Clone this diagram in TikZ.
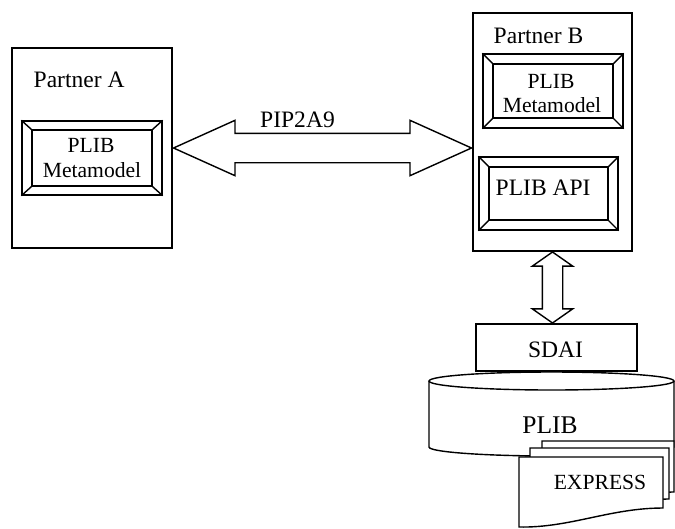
\documentclass[tikz,border=0pt]{standalone}
\usepackage{fontspec}
\setmainfont{Liberation Serif}
\usetikzlibrary{shapes.arrows,calc}

\tikzset{
  box/.style={rectangle,draw,fill=white,inner sep=0pt},
  lbl/.style={inner sep=0pt,font=\fontsize{13.4}{16}\selectfont},
  small/.style={inner sep=0pt,font=\fontsize{12.3}{15}\selectfont},
  fatarrow/.style={double arrow,draw,fill=white,inner xsep=0pt,
    double arrow head indent=0pt}
}

\begin{document}
\begin{tikzpicture}[x=0.02cm,y=-0.02cm,line width=0.8pt]
\useasboundingbox (0,0) rectangle (675,528);

% partner A with its metamodel
\node[box, minimum width=3.2cm, minimum height=4cm] (partA) at (92,148) {};
\node[lbl, anchor=base west] (nameA) at (33,87) {Partner A};
\node[box, minimum width=2.8cm, minimum height=1.48cm] (metaA) at (92,158) {};
\node[box, minimum width=2.4cm, minimum height=1.12cm] (metaAin) at (92,158) {};
\foreach \c in {north west,north east,south west,south east}
  \draw (metaA.\c) -- (metaAin.\c);
\node[small, anchor=base] (plibA) at (91,152) {PLIB};
\node[small, anchor=base] (mmA) at (92,177) {Metamodel};

% partner B with metamodel and API
\node[box, minimum width=3.18cm, minimum height=4.76cm] (partB) at (552.5,132) {};
\node[lbl, anchor=base west] (nameB) at (493,43) {Partner B};
\node[box, minimum width=2.8cm, minimum height=1.48cm] (metaB) at (553,91) {};
\node[box, minimum width=2.4cm, minimum height=1.08cm] (metaBin) at (553,91) {};
\foreach \c in {north west,north east,south west,south east}
  \draw (metaB.\c) -- (metaBin.\c);
\node[small, anchor=base] (plibB) at (551,88) {PLIB};
\node[small, anchor=base] (mmB) at (552,112) {Metamodel};

\node[box, minimum width=2.78cm, minimum height=1.46cm] (api) at (548.5,193.5) {};
\node[box, minimum width=2.38cm, minimum height=1.06cm] (apiin) at (548.5,193.5) {};
\foreach \c in {north west,north east,south west,south east}
  \draw (api.\c) -- (apiin.\c);
\node[lbl, anchor=base west] (apitxt) at (495,195) {PLIB API};

% exchange between the partners
\node[fatarrow, inner ysep=0.28cm, minimum height=5.96cm,
  double arrow head extend=0.26cm, double arrow tip angle=48.5]
  (pip) at ($(partA.east)!0.5!(partA.east -| partB.west)$) {};
\node[lbl, anchor=base] (piptxt) at (297.5,127) {PIP2A9};

% database
\draw[fill=white] (429,381) -- (429,447)
  arc[start angle=180, end angle=360, x radius=2.45cm, y radius=0.18cm]
  -- (674,381);
\draw[fill=white] (551.5,381) ellipse [x radius=2.45cm, y radius=0.18cm];
\node[lbl, anchor=base, font=\fontsize{14.5}{17}\selectfont] (plibdb) at (550,433) {PLIB};

\node[box, minimum width=3.22cm, minimum height=0.94cm] (sdai) at (556.5,347.5) {};
\node[lbl, anchor=base] (sditxt) at (555.5,357) {SDAI};

\node[fatarrow, rotate=90, inner ysep=0.19cm, minimum height=1.42cm,
  double arrow head extend=0.2cm, double arrow tip angle=110]
  (api2db) at ($(partB.south)!0.5!(partB.south |- sdai.north)$) {};

% stack of EXPRESS files
\foreach \dx/\dy/\w in {23/-16/132, 11/-9/139, 0/0/144}
  \draw[fill=white, shift={(\dx,\dy)}] (519,457) -- (519+\w,457) -- (519+\w,508)
    .. controls (466+\w,508) and (570,528) .. (519,527) -- cycle;
\node[small, anchor=base] (expr) at (600,489) {EXPRESS};
\end{tikzpicture}
\end{document}
